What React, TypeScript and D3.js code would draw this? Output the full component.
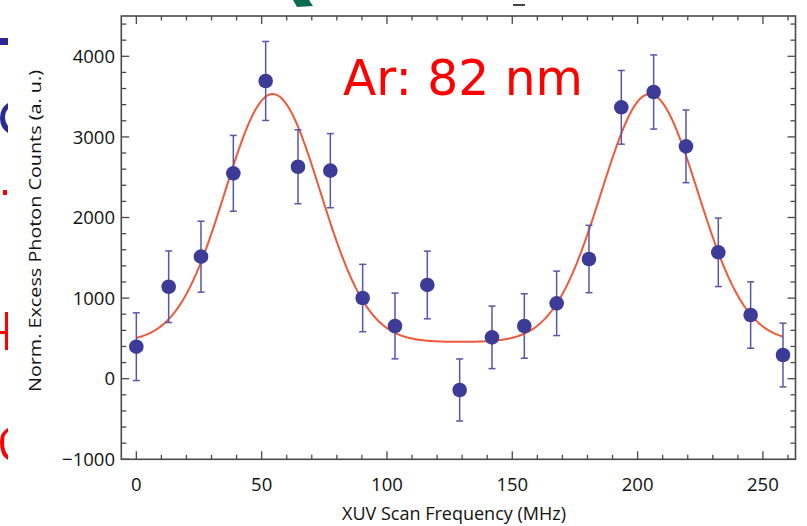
import React from "react";
import * as d3 from "d3";

// scan frequency (MHz) of each measured point
const freqs = [0, 12.9, 25.8, 38.7, 51.6, 64.5, 77.4, 90.3, 103.2, 116.1, 129, 141.9, 154.8, 167.7, 180.6, 193.5, 206.4, 219.3, 232.2, 245.1, 258];
// normalised excess photon counts
const counts = [397, 1141, 1514, 2548, 3694, 2630, 2581, 1001, 654, 1163, -140, 513, 654, 935, 1485, 3367, 3557, 2883, 1568, 790, 294];
// error bar half height
const errors = [420, 444, 440, 470, 490, 459, 460, 418, 408, 420, 385, 388, 400, 400, 418, 457, 460, 451, 425, 412, 395];

// two-gaussian fit
const fitBaseline = 455;
const fitCenters = [54.4, 204.8];
const fitAmplitudes = [3077, 3077];
const fitWidths = [19, 19.2];

const xMajor = [0, 50, 100, 150, 200, 250];
const yMajor = [-1000, 0, 1000, 2000, 3000, 4000];
const yLabels = ["\u22121000", "0", "1000", "2000", "3000", "4000"];

const W = 807, H = 526;
const x = d3.scaleLinear().domain([-6, 263]).range([121.3, 795.5]);
const y = d3.scaleLinear().domain([-1000, 4500]).range([459.3, 16]);

const fit = (f: number) =>
  fitBaseline +
  fitCenters.reduce((s, c, i) => s + fitAmplitudes[i] * Math.exp(-((f - c) ** 2) / (2 * fitWidths[i] ** 2)), 0);

const fitLine = d3.line<number>().x(f => x(f)).y(f => y(fit(f)));

const axisColor = "#4a4a4a";
const font = "'Open Sans', Lato, sans-serif";

export default function App() {
  const [x0, x1] = x.range();
  const [y0, y1] = y.range();
  const xMinor = d3.range(0, 261, 10).filter(v => v % 50 !== 0);
  const yMinor = d3.range(-1000, 4500, 200).filter(v => v % 1000 !== 0);

  return (
    <svg width={W} height={H} style={{ position: "absolute", left: 0, top: 0, background: "#fff" }}>
      {/* bits of the slide around the cropped figure */}
      <g>
        <rect x={0} y={38} width={8} height={7} fill="#2a2a96" />
        <path d="M8,103 Q0,108 0,118 Q0,128 8,133 L8,126 Q5,122 5,118 Q5,112 8,109 Z" fill="#2a2a96" />
        <rect x={3} y={190} width={4} height={5} fill="#f00" />
        <rect x={0} y={331} width={8} height={3} fill="#f00" />
        <rect x={5} y={312} width={3} height={38} fill="#f00" />
        <path d="M8,428 Q0,432 0,442 Q0,456 8,460 L8,455 Q4,451 4,442 Q4,434 8,432 Z" fill="#f00" />
        <path d="M293,0 L309,0 L313,6 L297,7 Z" fill="#0a6b4f" />
        <rect x={513} y={4} width={12} height={2} fill="#444" />
      </g>

      {/* frame */}
      <rect x={x0} y={y1} width={x1 - x0} height={y0 - y1} fill="none" stroke={axisColor} strokeWidth={1.6} />

      {/* ticks on all four sides */}
      <g stroke={axisColor} strokeWidth={1.3}>
        {xMajor.map(v => (
          <g key={"xM" + v}>
            <line x1={x(v)} x2={x(v)} y1={y0} y2={y0 - 8} />
            <line x1={x(v)} x2={x(v)} y1={y1} y2={y1 + 8} />
          </g>
        ))}
        {xMinor.map(v => (
          <g key={"xm" + v}>
            <line x1={x(v)} x2={x(v)} y1={y0} y2={y0 - 4.5} />
            <line x1={x(v)} x2={x(v)} y1={y1} y2={y1 + 4.5} />
          </g>
        ))}
        {yMajor.map(v => (
          <g key={"yM" + v}>
            <line x1={x0} x2={x0 + 8} y1={y(v)} y2={y(v)} />
            <line x1={x1} x2={x1 - 8} y1={y(v)} y2={y(v)} />
          </g>
        ))}
        {yMinor.map(v => (
          <g key={"ym" + v}>
            <line x1={x0} x2={x0 + 5} y1={y(v)} y2={y(v)} />
            <line x1={x1} x2={x1 - 5} y1={y(v)} y2={y(v)} />
          </g>
        ))}
      </g>

      {/* tick labels */}
      <g fontFamily={font} fontSize={18.5} fill="#111">
        {yMajor.map((v, i) => (
          <text key={v} x={115} y={y(v)} dy="0.36em" textAnchor="end">{yLabels[i]}</text>
        ))}
        {xMajor.map(v => (
          <text key={v} x={x(v)} y={490.5} textAnchor="middle">{v}</text>
        ))}
      </g>

      {/* axis titles */}
      <text x={342} y={520} fontFamily={font} fontSize={17.5} fill="#111" textLength={224} lengthAdjust="spacingAndGlyphs">
        XUV Scan Frequency (MHz)
      </text>
      <text transform="translate(41,392) rotate(-90)" fontFamily={font} fontSize={17} fill="#111" textLength={322} lengthAdjust="spacingAndGlyphs">
        Norm. Excess Photon Counts (a. u.)
      </text>

      {/* fit curve */}
      <path d={fitLine(d3.range(0, 258.01, 0.5)) || ""} fill="none" stroke="#f0583a" strokeWidth={2} />

      {/* error bars */}
      <g stroke="#5656ac" strokeWidth={1.5}>
        {freqs.map((f, i) => (
          <g key={i}>
            <line x1={x(f)} x2={x(f)} y1={y(counts[i] - errors[i])} y2={y(counts[i] + errors[i])} />
            <line x1={x(f) - 3.5} x2={x(f) + 3.5} y1={y(counts[i] - errors[i])} y2={y(counts[i] - errors[i])} />
            <line x1={x(f) - 3.5} x2={x(f) + 3.5} y1={y(counts[i] + errors[i])} y2={y(counts[i] + errors[i])} />
          </g>
        ))}
      </g>

      {/* data points */}
      <g fill="#3c3c98">
        {freqs.map((f, i) => (
          <circle key={i} cx={x(f)} cy={y(counts[i])} r={7.3} />
        ))}
      </g>

      <text x={343} y={95} fontFamily="'DejaVu Sans', sans-serif" fontSize={50} fill="#ff0000" textLength={240} lengthAdjust="spacingAndGlyphs">
        Ar: 82 nm
      </text>
    </svg>
  );
}
